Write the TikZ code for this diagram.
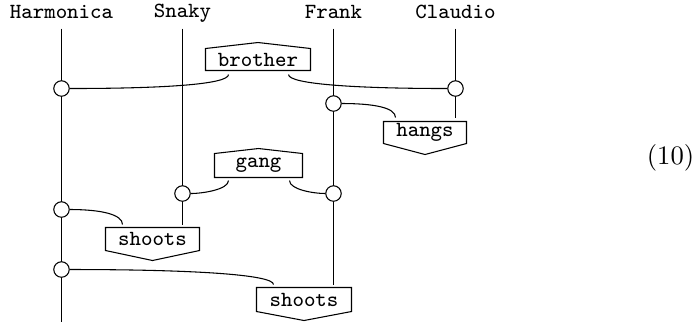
\documentclass[tikz,border=0pt]{standalone}
\begin{document}
\begin{tikzpicture}[x=0.375pt,y=-0.375pt,line width=0.4pt]
\tikzset{
  wire/.style={draw},
  conn/.style={draw},
  dot/.style={circle,draw,fill=white,minimum size=5.8pt,inner sep=0pt},
  lab/.style={font=\fontsize{8.1}{10}\selectfont\ttfamily,anchor=base,inner sep=0pt},
  boxtext/.style={font=\fontsize{8.1}{10}\selectfont\ttfamily,inner sep=0pt},
  outline/.style={draw,line join=miter},
}
\useasboundingbox (0,0) rectangle (698,321);
\begin{scope}[shift={(0.5,0.5)}]
% labels
\node[lab] (hl) at (61,18.3) {Harmonica};
\node[lab] (sl) at (182,16.7) {Snaky};
\node[lab] (fl) at (333,18.3) {Frank};
\node[lab] (cl) at (455,18.3) {Claudio};

% wire end points
\coordinate (Ht) at (61,28);  \coordinate (Hb) at (61,321);
\coordinate (St) at (182,28); \coordinate (Sb) at (182,224);
\coordinate (Ft) at (333,28); \coordinate (Fb) at (333,284);
\coordinate (Ct) at (455,28); \coordinate (Cb) at (455,117);

% boxes
\draw[outline] (205,70) -- (205,48) -- (257.5,42) -- (310,48) -- (310,70) -- cycle;
\node[boxtext] (brother) at (257.5,59) {brother};
\coordinate (brL) at (228,74); \coordinate (brR) at (288,74);

\draw[outline] (214,177) -- (214,153) -- (258,148) -- (302,153) -- (302,177) -- cycle;
\node[boxtext] (gang) at (258,165) {gang};
\coordinate (gaL) at (228,180); \coordinate (gaR) at (289,180);

\draw[outline] (383,121) -- (466,121) -- (466,143) -- (424.5,154) -- (383,143) -- cycle;
\node[boxtext] (hangs) at (424.5,132) {hangs};
\coordinate (hgL) at (395,117);

\draw[outline] (105,227) -- (199,227) -- (199,250) -- (152,260) -- (105,250) -- cycle;
\node[boxtext] (shootsA) at (152,238.5) {shoots};
\coordinate (shAL) at (122,224);

\draw[outline] (256,287) -- (351,287) -- (351,311) -- (303.5,320) -- (256,311) -- cycle;
\node[boxtext] (shootsB) at (303.5,299) {shoots};
\coordinate (shBL) at (273,284);

% wires
\draw[wire] (Ht) -- (Hb);
\draw[wire] (St) -- (Sb);
\draw[wire] (Ft) -- (Fb);
\draw[wire] (Ct) -- (Cb);

% dots
\node[dot] (H1) at (61,88) {};
\node[dot] (C1) at (455,88) {};
\node[dot] (F1) at (333,103) {};
\node[dot] (S1) at (182,193) {};
\node[dot] (F2) at (333,193) {};
\node[dot] (H2) at (61,209) {};
\node[dot] (H3) at (61,269) {};

% connectors
\draw[conn] (brL) .. controls +(0,10) and +(100,0) .. (H1);
\draw[conn] (brR) .. controls +(0,10) and +(-95,0) .. (C1);
\draw[conn] (F1) .. controls +(40,0) and +(0,-10) .. (hgL);
\draw[conn] (gaL) .. controls +(0,9) and +(20,0) .. (S1);
\draw[conn] (gaR) .. controls +(0,9) and +(-20,0) .. (F2);
\draw[conn] (H2) .. controls +(40,0) and +(0,-10) .. (shAL);
\draw[conn] (H3) .. controls +(130,0) and +(0,-10) .. (shBL);

% equation number
\node[font=\fontsize{10}{12}\selectfont] (eq) at (670,157) {(10)};
\end{scope}
\end{tikzpicture}
\end{document}
